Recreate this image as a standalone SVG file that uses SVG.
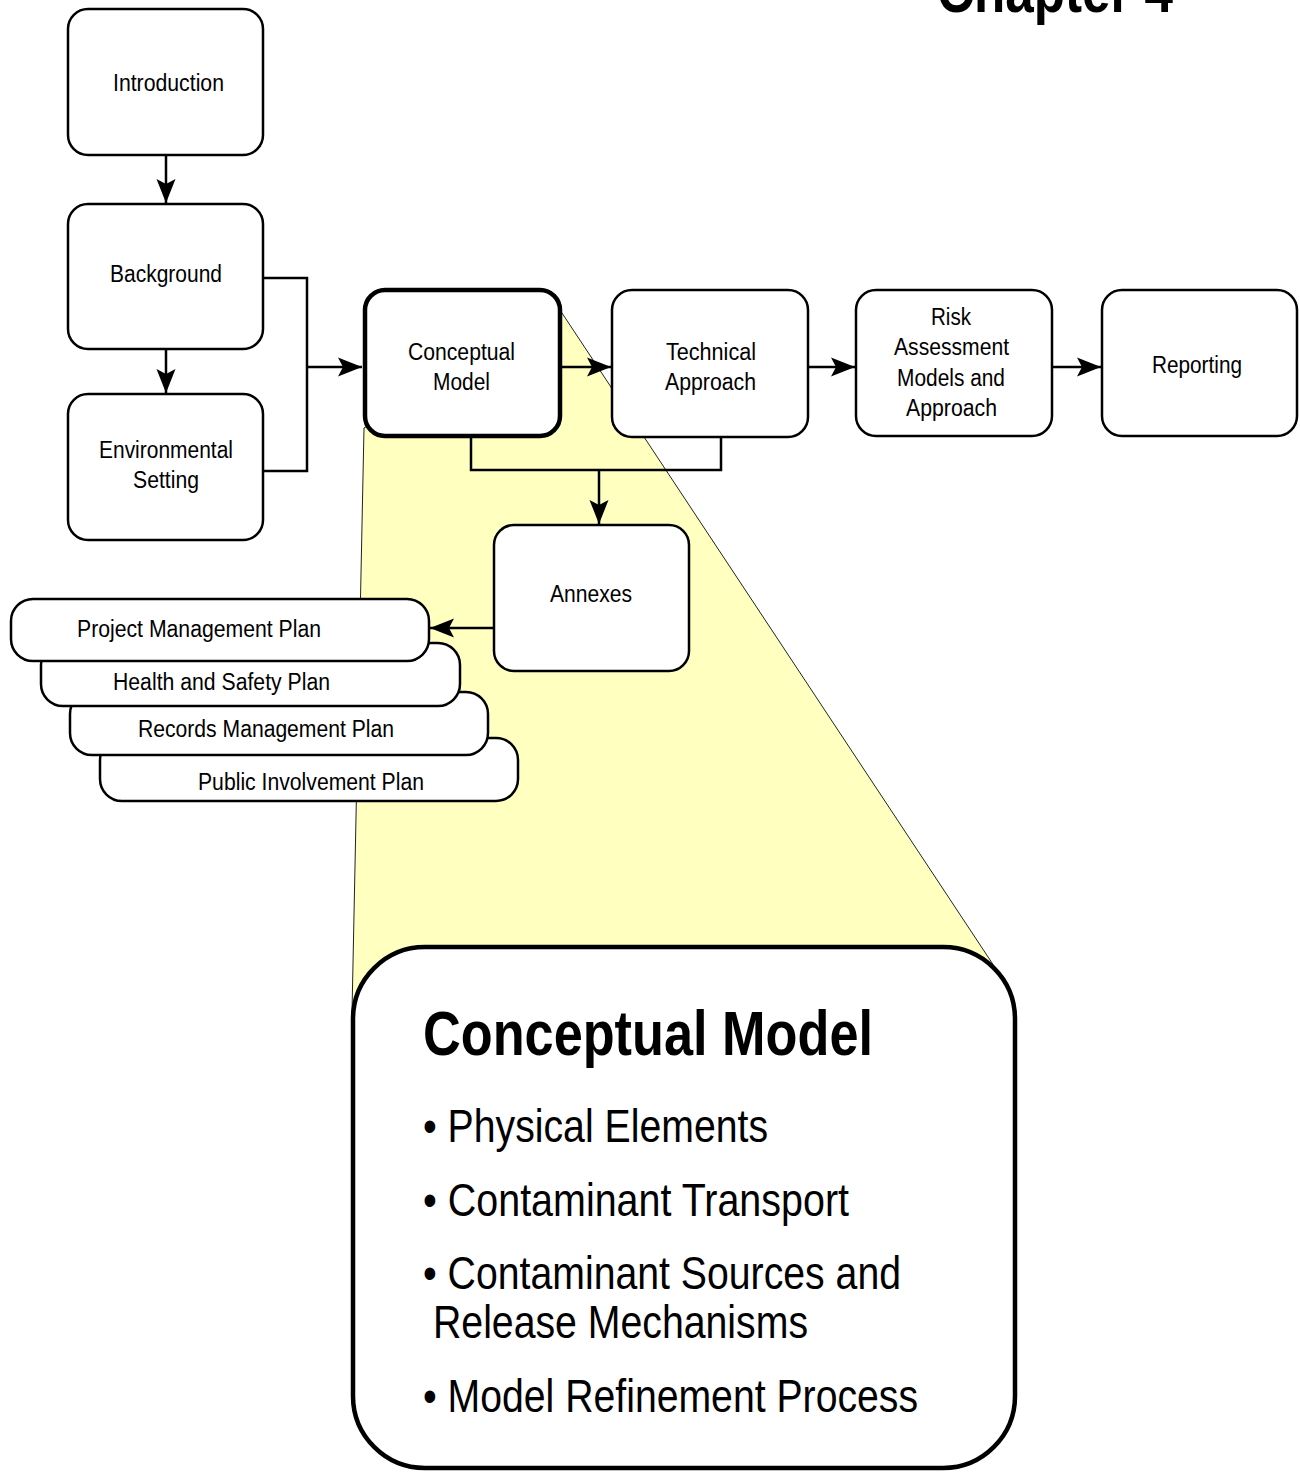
<svg xmlns="http://www.w3.org/2000/svg" width="1300" height="1472" viewBox="0 0 1300 1472">
  <style>
    .box { fill: #ffffff; stroke: #000000; stroke-width: 2.5; }
    .focus { fill: #ffffff; stroke: #000000; stroke-width: 4.5; }
    .lbl { font-family: "Liberation Sans Narrow", "Liberation Sans", Arial, sans-serif; font-size: 23px; fill: #000000; }
    .bul { font-family: "Liberation Sans Narrow", "Liberation Sans", Arial, sans-serif; font-size: 47px; fill: #000000; }
    .ttl { font-family: "Liberation Sans Narrow", "Liberation Sans", Arial, sans-serif; font-size: 63px; font-weight: bold; fill: #000000; }
    .wire { fill: none; stroke: #000000; stroke-width: 2.5; }
    .arr { fill: none; stroke: #000000; stroke-width: 2.5; marker-end: url(#head); }
  </style>
  <defs>
    <marker id="head" markerUnits="userSpaceOnUse" markerWidth="26" markerHeight="22" refX="24" refY="11" orient="auto">
      <path d="M0,1.5 L24,11 L0,20.5 L5,11 Z" fill="#000000"/>
    </marker>
  </defs>

  <rect x="0" y="0" width="1300" height="1472" fill="#ffffff"/>

  <!-- chapter heading, partly above the page edge -->
  <text class="ttl" x="937" y="12" textLength="236" lengthAdjust="spacingAndGlyphs">Chapter 4</text>

  <!-- zoom wedge from the Conceptual Model box to its detail panel -->
  <polygon id="wedge" points="364,428 560,310 998,972 352,1012" fill="#ffffc0" stroke="#222222" stroke-width="1"/>

  <g id="connectors">
    <path class="arr" d="M166,155 L166,203"/>
    <path class="arr" d="M166,349 L166,393"/>
    <path class="wire" d="M263,278 L307,278 L307,471 L263,471"/>
    <path class="arr" d="M307,367 L362,367"/>
    <path class="arr" d="M562,367 L611,367"/>
    <path class="arr" d="M808,367 L855,367"/>
    <path class="arr" d="M1053,367 L1101,367"/>
    <path class="wire" d="M471,437 L471,470 L721,470 L721,437"/>
    <path class="arr" d="M599,470 L599,524"/>
    <path class="arr" d="M493,628 L430,628"/>
  </g>

  <g id="introduction">
    <rect class="box" x="68" y="9" width="195" height="146" rx="20"/>
    <text class="lbl" x="113" y="91" textLength="111" lengthAdjust="spacingAndGlyphs">Introduction</text>
  </g>

  <g id="background">
    <rect class="box" x="68" y="204" width="195" height="145" rx="20"/>
    <text class="lbl" x="110" y="282" textLength="112" lengthAdjust="spacingAndGlyphs">Background</text>
  </g>

  <g id="environmental-setting">
    <rect class="box" x="68" y="394" width="195" height="146" rx="20"/>
    <text class="lbl" x="99" y="458" textLength="134" lengthAdjust="spacingAndGlyphs">Environmental</text>
    <text class="lbl" x="133" y="488" textLength="66" lengthAdjust="spacingAndGlyphs">Setting</text>
  </g>

  <g id="conceptual-model">
    <rect class="focus" x="365" y="290" width="195" height="146" rx="20"/>
    <text class="lbl" x="408" y="360" textLength="107" lengthAdjust="spacingAndGlyphs">Conceptual</text>
    <text class="lbl" x="433" y="390" textLength="57" lengthAdjust="spacingAndGlyphs">Model</text>
  </g>

  <g id="technical-approach">
    <rect class="box" x="612" y="290" width="196" height="147" rx="20"/>
    <text class="lbl" x="666" y="360" textLength="90" lengthAdjust="spacingAndGlyphs">Technical</text>
    <text class="lbl" x="665" y="390" textLength="91" lengthAdjust="spacingAndGlyphs">Approach</text>
  </g>

  <g id="risk-assessment">
    <rect class="box" x="856" y="290" width="196" height="146" rx="20"/>
    <text class="lbl" x="931" y="325" textLength="40" lengthAdjust="spacingAndGlyphs">Risk</text>
    <text class="lbl" x="894" y="355" textLength="115" lengthAdjust="spacingAndGlyphs">Assessment</text>
    <text class="lbl" x="897" y="386" textLength="108" lengthAdjust="spacingAndGlyphs">Models and</text>
    <text class="lbl" x="906" y="416" textLength="91" lengthAdjust="spacingAndGlyphs">Approach</text>
  </g>

  <g id="reporting">
    <rect class="box" x="1102" y="290" width="195" height="146" rx="20"/>
    <text class="lbl" x="1152" y="373" textLength="90" lengthAdjust="spacingAndGlyphs">Reporting</text>
  </g>

  <g id="annexes">
    <rect class="box" x="494" y="525" width="195" height="146" rx="20"/>
    <text class="lbl" x="550" y="602" textLength="82" lengthAdjust="spacingAndGlyphs">Annexes</text>
  </g>

  <!-- stacked plan cards, back to front -->
  <g id="public-involvement-plan">
    <rect class="box" x="100" y="738" width="418" height="63" rx="22"/>
    <text class="lbl" x="198" y="790" textLength="226" lengthAdjust="spacingAndGlyphs">Public Involvement Plan</text>
  </g>
  <g id="records-management-plan">
    <rect class="box" x="70" y="692" width="418" height="63" rx="22"/>
    <text class="lbl" x="138" y="737" textLength="256" lengthAdjust="spacingAndGlyphs">Records Management Plan</text>
  </g>
  <g id="health-safety-plan">
    <rect class="box" x="41" y="643" width="419" height="63" rx="22"/>
    <text class="lbl" x="113" y="690" textLength="217" lengthAdjust="spacingAndGlyphs">Health and Safety Plan</text>
  </g>
  <g id="project-management-plan">
    <rect class="box" x="11" y="599" width="418" height="62" rx="22"/>
    <text class="lbl" x="77" y="637" textLength="244" lengthAdjust="spacingAndGlyphs">Project Management Plan</text>
  </g>

  <g id="conceptual-model-detail">
    <rect class="focus" x="353" y="947" width="662" height="521" rx="72"/>
    <text class="ttl" x="423" y="1055" textLength="450" lengthAdjust="spacingAndGlyphs">Conceptual Model</text>
    <text class="bul" x="423" y="1142" textLength="345" lengthAdjust="spacingAndGlyphs">• Physical Elements</text>
    <text class="bul" x="423" y="1216" textLength="426" lengthAdjust="spacingAndGlyphs">• Contaminant Transport</text>
    <text class="bul" x="423" y="1289" textLength="478" lengthAdjust="spacingAndGlyphs">• Contaminant Sources and</text>
    <text class="bul" x="433" y="1338" textLength="375" lengthAdjust="spacingAndGlyphs">Release Mechanisms</text>
    <text class="bul" x="423" y="1412" textLength="495" lengthAdjust="spacingAndGlyphs">• Model Refinement Process</text>
  </g>
</svg>
